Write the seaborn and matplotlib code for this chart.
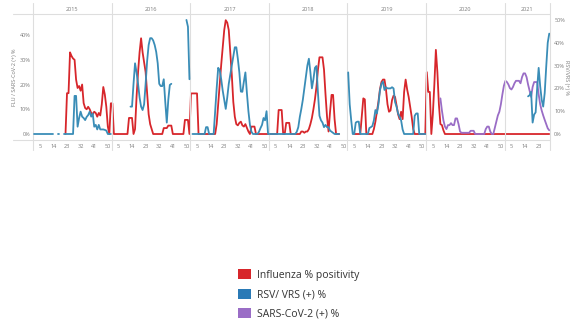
import numpy as np
import pandas as pd
import matplotlib
matplotlib.use("Agg")
import matplotlib.pyplot as plt
import seaborn as sns
from matplotlib.patches import Patch

N = np.nan

# weekly values (weeks 1..52, 2021 only to week 30)
years = [2015, 2016, 2017, 2018, 2019, 2020, 2021]
week_ticks = [5, 14, 23, 32, 41, 50]

# Influenza % positivity (left axis)
flu_2015 = [N, N, N, N, N, N, N, N, N, N, N, N, N,
            N, N, N, N, N, N, N, N, 0, 16.5, 16.5, 33, 31.5,
            30.5, 30, 22, 18.6, 19.4, 17.5, 20, 12.5, 10.5, 10, 11, 10, 8.5,
            8, 9, 8.5, 7, 8.5, 7.5, 12, 19, 16, 11, 3, 0, 12.4]
flu_2016 = [12.4, 0, 0, 0, 0, 0, 0, 0, 0, 0, 0, 6.5, 6.5,
            6.5, 0, 2, 15, 25, 33, 38.7, 33, 29, 25, 16.4, 8, 4,
            2, 0, 0, 0, 0, 0, 0, 0, 2.4, 2.4, 2.4, 3.4, 3.4,
            3.4, 0, 0, 0, 0, 0, 0, 0, 0, 5.7, 5.7, 5.7, 0]
flu_2017 = [16.4, 16.4, 16.4, 16.4, 16.4, 0, 0, 0, 0, 0, 0, 0, 0,
            0, 0, 0, 0, 4, 12, 20, 28, 35, 42, 46, 45, 42,
            33, 24, 13, 7, 4, 3.5, 4.5, 5, 3.5, 3, 4, 2.5, 1,
            0, 3, 3, 3, 0, 0, 0, 0, 0, 0, 0, 0, 0]
flu_2018 = [0, 0, 0, 0, 0, 0, 9.7, 9.7, 9.7, 0, 0, 4.5, 4.5,
            4.5, 0, 0, 0, 0, 0, 0, 0, 1, 1, 0.5, 1, 1,
            2, 4, 6.5, 10, 14, 19, 26, 31, 31, 31, 26, 16, 7,
            1, 9, 15.8, 15.8, 6, 0, 0, 0, N, N, N, N, N]
flu_2019 = [N, N, N, N, 0, 0, 0, 0, 0, 7, 14.4, 14, 0,
            0, 0, 0, 0, 2, 5, 9, 13, 18, 21, 22, 22, 18,
            12, 9, 9.5, 13.7, 15.5, 15, 11.5, 8, 6, 9, 6, 17, 22,
            18, 15, 11, 7, 2, 0, 0, 0, 0, 0, 0, 0, 0]
flu_2020 = [25, 17, 17, 0, 8, 20, 34, 25, 12, 4, 3.6, 1.5, 0,
            0, 0, 0, 0, 0, 0, 0, 0, 0, 0, 0, 0, 0,
            0, 0, 0, 0, 0, 0, 0, 0, 0, 0, 0, 0, 0,
            0, 0, 0, 0, 0, 0, 0, 0, 0, 0, 0, 0, 0]
flu_2021 = [0, 0, 0, 0, 0, 0, 0, 0, 0, 0, 0, 0, 0, 0, 0,
            0, 0, 0, 0, 0, 0, 0, 0, 0, 0, 0, 0, 0, 0, 0]

# RSV / VRS (+) % (right axis)
rsv_2015 = [0, 0, 0, 0, 0, 0, 0, 0, 0, 0, 0, 0, 0,
            0, N, N, 0, 0, N, N, 0, 0, 0, 0, 0, 0,
            0, 16.7, 16.7, 3.2, 7, 9.8, 7.6, 7, 6.1, 7.5, 8.3, 9.8, 7.6,
            9, 3.2, 4, 2, 4, 2, 2, 2, 1.8, 1.5, 0, 0, 0]
rsv_2016 = [N, N, N, N, N, N, N, N, N, N, N, N, 12,
            12, 22, 31, 27, 22, 16, 12, 10.5, 13, 22, 32, 39, 42,
            42, 41, 39, 36, 31, 22, 21, 21, 24, 14, 5, 15, 21.5,
            22, N, N, N, N, N, N, N, N, N, 50, 47, 24]
rsv_2017 = [N, 0, 0, 0, 0, 0, 0, 0, 0, 0, 3, 3, 0,
            0, 0, 0, 10, 20, 29, 28, 24, 19, 15, 11, 16, 22,
            26, 30, 34, 38, 38, 33, 27, 18.6, 18.5, 23, 27, 18, 10,
            4, 1, 0, 0, 0, 0, 1, 2.6, 4, 7, 6, 10, 0]
rsv_2018 = [0, 0, 0, 0, 0, 0, 0, 0, 0, 0, 0, 0, 0,
            0, 0, 0, 0, 0, 1, 3, 7.5, 11, 15, 20, 25, 30,
            33, 27, 20, 24, 29, 29.8, 18, 8, 6, 5, 3, 4, 3,
            3, 1.5, 1, 0.5, 0, 0, 0, 0, N, N, N, N, N]
rsv_2019 = [27, 13, 6, 0, 0, 5, 5.4, 5.4, 0, 0, 0, 0, 0,
            0, 2.6, 3, 3.5, 6, 10.5, 9, 13, 19, 22, 23, 19.3, 20.5,
            20, 20, 20, 20.5, 20, 14, 12, 9, 7.6, 6, 2, 0, 0,
            0, 0, 0, 0, 0, 8, 9, 9, 0, 0, 0, 0, 0]
rsv_2021 = [N, N, N, N, N, N, N, N, N, N, N, N, N, N, N,
            16.5, 17, 18.5, 5, 8.5, 9.5, 20, 29, 21, 15, 12, 18, 29.5, 40, 44]

# SARS-CoV-2 (+) % (left axis)
sars_2020 = [N, N, N, N, N, N, N, N, N, 14.4, 9.5, 5.5, 3,
             2, 3.6, 3.6, 4.4, 3.6, 3.6, 6.3, 6.3, 4, 1, 0.5, 0.5, 0.5,
             0.5, 0.5, 0.5, 1.3, 1.3, 1.3, 0, 0, 0, 0, 0, 0, 0,
             2, 3, 3, 1, 0, 0, 2.5, 5, 7.5, 9, 12, 16, 19.5]
sars_2021 = [21.5, 21, 20, 18.5, 18, 19, 20.5, 21.5, 21.5, 21.5, 20.5, 23, 24.5, 24.5, 23,
             20, 17.5, 15, 19, 21, 21, 21, 16, 12, 9.5, 7.5, 5.7, 4, 2.3, 1.5]

flu = {2015: flu_2015, 2016: flu_2016, 2017: flu_2017, 2018: flu_2018,
       2019: flu_2019, 2020: flu_2020, 2021: flu_2021}
rsv = {2015: rsv_2015, 2016: rsv_2016, 2017: rsv_2017, 2018: rsv_2018,
       2019: rsv_2019, 2021: rsv_2021}
sars = {2020: sars_2020, 2021: sars_2021}


def long_frame(by_year):
    # one continuous week index, gaps split into separate line units
    rows = []
    for yr in years:
        vals = by_year.get(yr)
        if vals is None:
            rows.append(((yr - 2015) * 52 + 1, np.nan))
            continue
        for w, v in enumerate(vals, start=1):
            rows.append(((yr - 2015) * 52 + w, v))
    df = pd.DataFrame(rows, columns=["x", "value"])
    df["seg"] = df["value"].isna().cumsum()
    return df.dropna()


sns.set_theme(style="white")
plt.rcParams["font.family"] = ["Open Sans", "DejaVu Sans"]

red = "#d7262b"
teal = "#3a8db7"
purple = "#9a6dc6"
grey_txt = "#7a7a7a"
line_grey = "#dedede"

fig = plt.figure(figsize=(5.76, 3.22), dpi=100)
W, H = 576, 322
ax = fig.add_axes([33 / W, 1 - 140 / H, 517 / W, 126 / H])
ax2 = ax.twinx()

sns.lineplot(data=long_frame(flu), x="x", y="value", units="seg", estimator=None,
             color=red, lw=1.3, ax=ax, legend=False)
sns.lineplot(data=long_frame(sars), x="x", y="value", units="seg", estimator=None,
             color=purple, lw=1.3, ax=ax, legend=False)
sns.lineplot(data=long_frame(rsv), x="x", y="value", units="seg", estimator=None,
             color=teal, lw=1.3, ax=ax2, legend=False)

ax.set_xlim(0.5, 342.5)
ax.set_ylim(-2.42, 48.5)
ax2.set_ylim(-2.63, 52.6)

# x ticks: weeks inside each year panel
xt, xl = [], []
for k, yr in enumerate(years):
    for w in week_ticks:
        if yr == 2021 and w > 30:
            continue
        xt.append(k * 52 + w)
        xl.append(str(w))
ax.set_xticks(xt)
ax.set_xticklabels(xl)
ax.tick_params(axis="x", labelsize=4, colors=grey_txt, length=0, pad=3)

ax.set_yticks([0, 10, 20, 30, 40])
ax.set_yticklabels(["0%", "10%", "20%", "30%", "40%"])
ax.tick_params(axis="y", labelsize=4, colors=grey_txt, length=0, pad=2)
ax2.set_yticks([0, 10, 20, 30, 40, 50])
ax2.set_yticklabels(["0%", "10%", "20%", "30%", "40%", "50%"])
ax2.tick_params(axis="y", labelsize=4, colors=grey_txt, length=0, pad=3)

ax.set_xlabel("")
ax.set_ylabel("FLU / SARS-CoV-2 (+) %", fontsize=4, color=grey_txt)
ax.yaxis.set_label_coords(-16 / 517, 0.5)
ax2.set_ylabel("RSV/VRS (+) %", fontsize=4, color=grey_txt, rotation=270, va="center")
ax2.yaxis.set_label_coords(1 + 17 / 517, 0.5)

for a in (ax, ax2):
    for s in a.spines.values():
        s.set_visible(False)

# panel dividers, header and bottom rule
for k in range(len(years)):
    ax.axvline(k * 52 + 0.5, ymin=-0.079, ymax=1.087, color=line_grey, lw=0.8, clip_on=False)
ax.axvline(342.5, ymin=-0.079, ymax=1.087, color=line_grey, lw=0.8, clip_on=False)
for yy in (0.0, 1.0):
    ax.plot([-20 / 517, 1.0], [yy, yy], transform=ax.transAxes, color=line_grey,
            lw=0.8, clip_on=False)

for k, yr in enumerate(years):
    span = 30 if yr == 2021 else 52
    ax.text(k * 52 + 0.5 + span / 2, 1.035, str(yr), transform=ax.get_xaxis_transform(),
            ha="center", va="center", fontsize=4, color=grey_txt)

handles = [Patch(facecolor=red, edgecolor="none"),
           Patch(facecolor="#2a7ab6", edgecolor="none"),
           Patch(facecolor=purple, edgecolor="none")]
labels = ["Influenza % positivity", "RSV/ VRS (+) %", "SARS-CoV-2 (+) %"]
fig.legend(handles, labels, loc="upper left", bbox_to_anchor=(234 / W, 1 - 265 / H),
           frameon=False, fontsize=7.5, handlelength=1.2, handleheight=1.1,
           handletextpad=0.65, labelspacing=0.75, borderaxespad=0, labelcolor="#333333")

fig.savefig("out.png", dpi=100)
